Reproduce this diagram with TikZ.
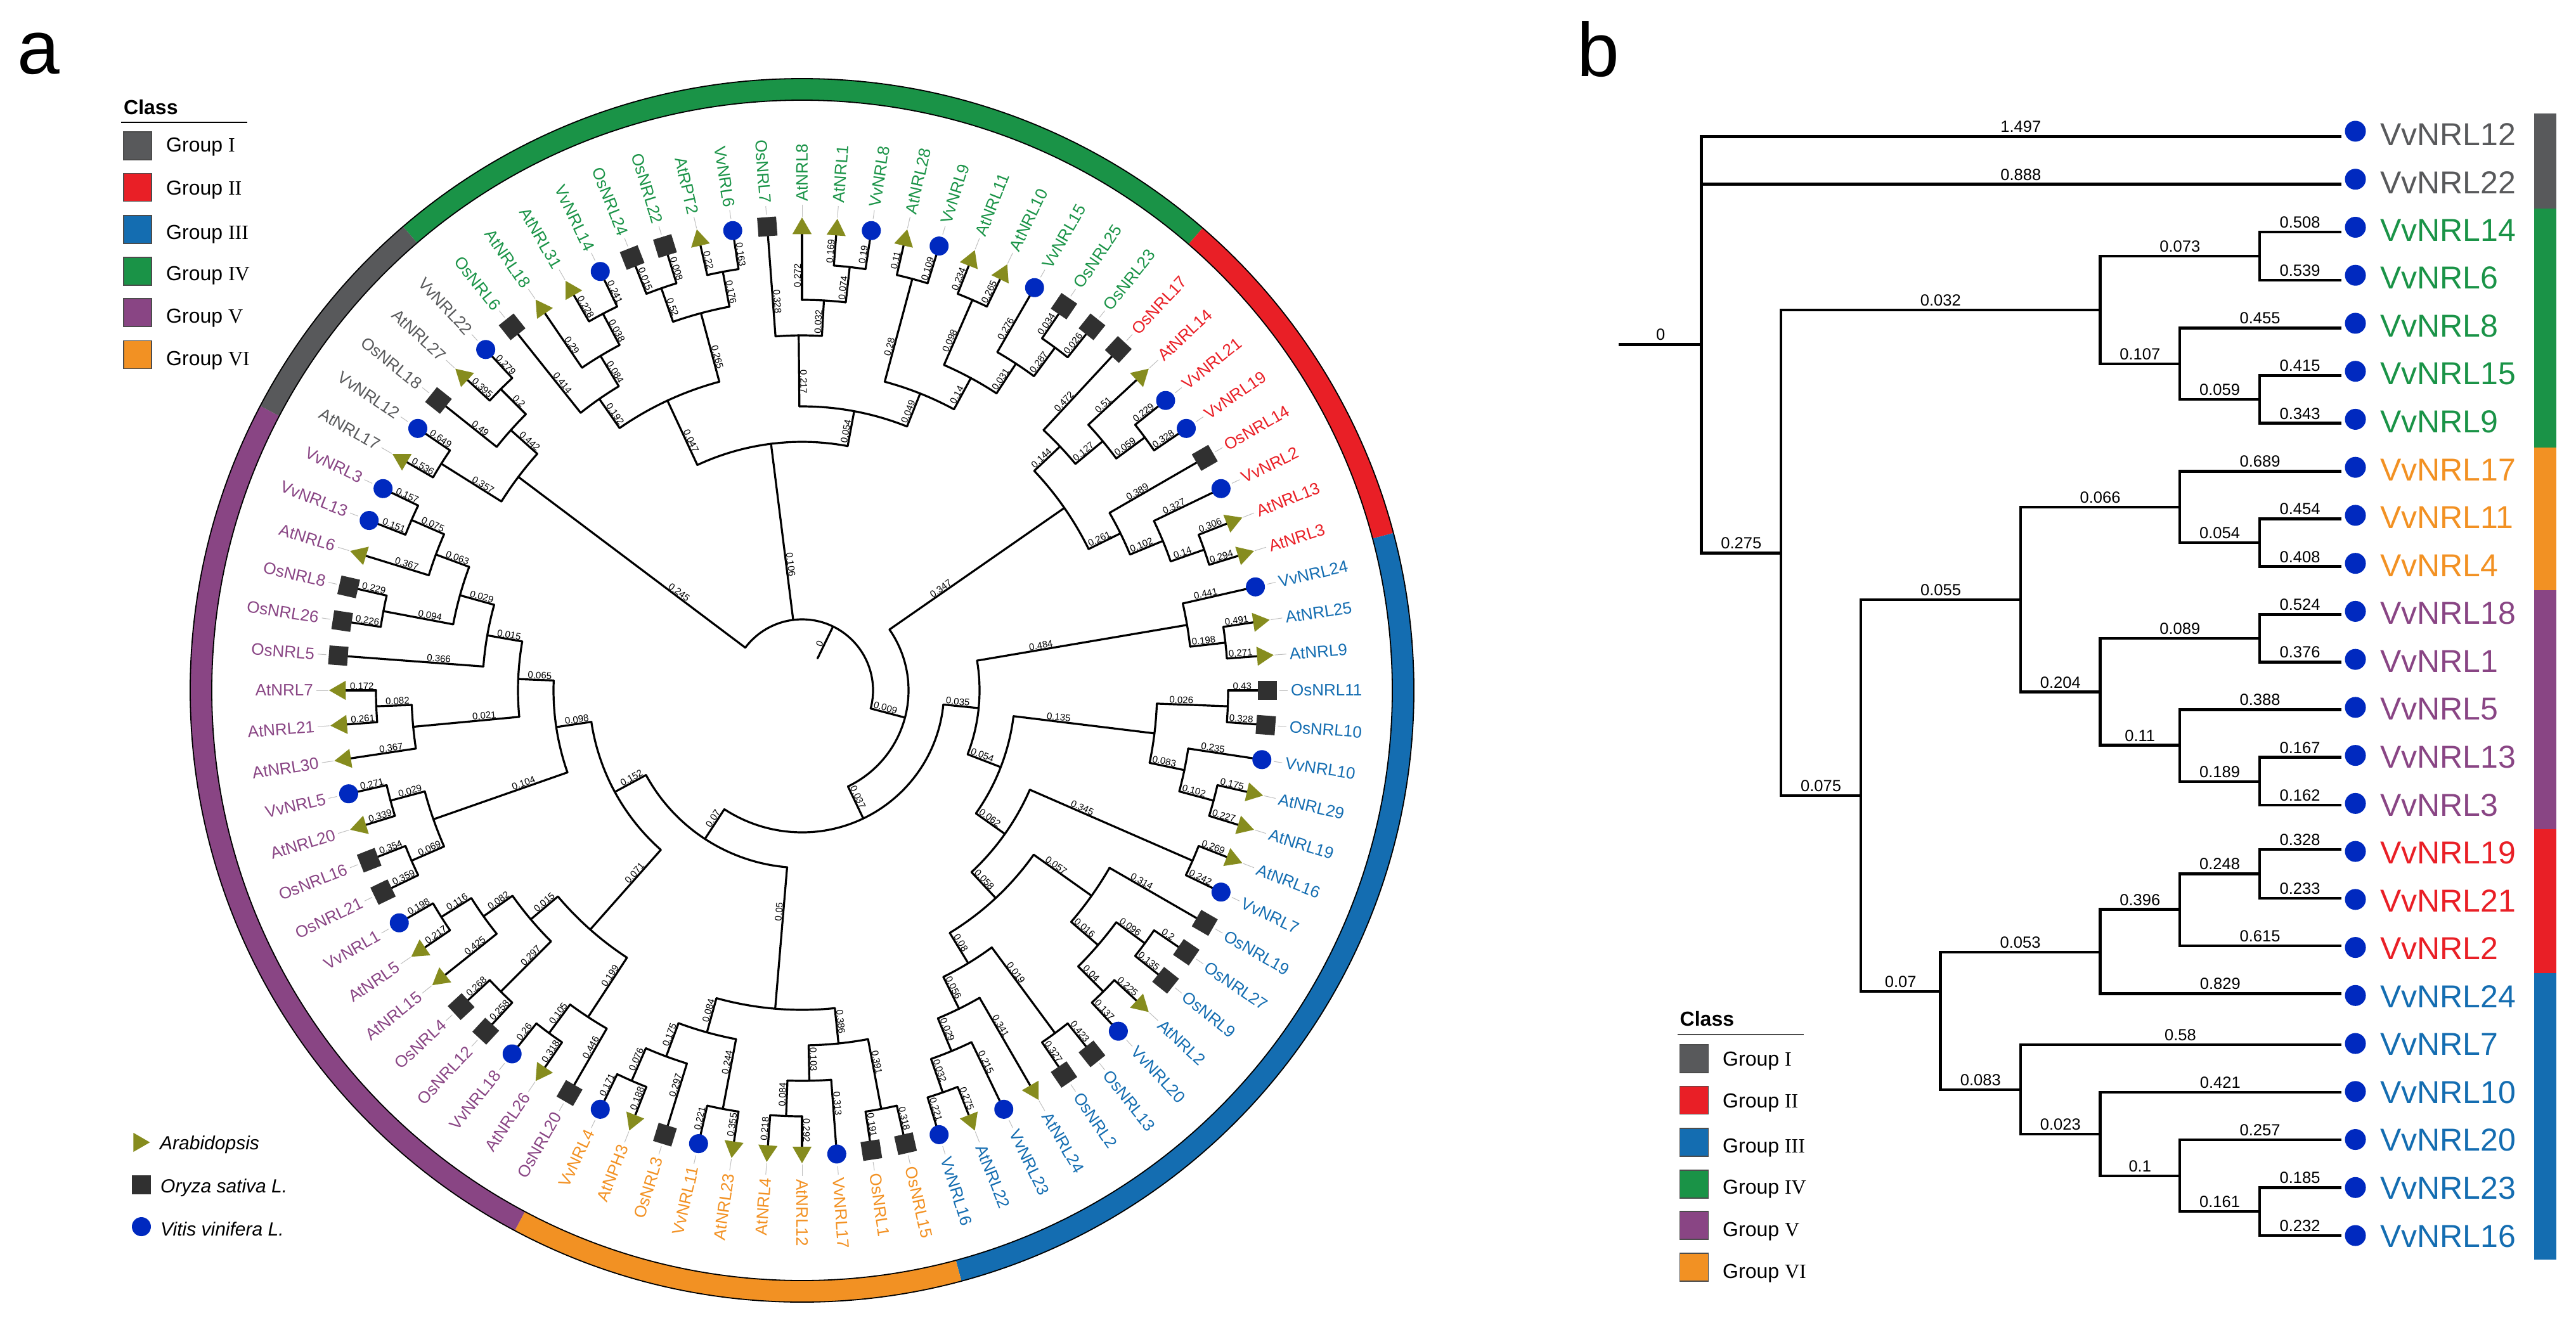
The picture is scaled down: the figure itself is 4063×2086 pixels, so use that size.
\documentclass[tikz,border=0pt]{standalone}
\usepackage{fontspec}
\setmainfont{Liberation Sans}
\newfontfamily\romnum{Liberation Serif}
\usetikzlibrary{shapes.geometric}

\definecolor{grpI}{HTML}{58595B}
\definecolor{grpII}{HTML}{E91F26}
\definecolor{grpIII}{HTML}{146DB1}
\definecolor{grpIV}{HTML}{1A9347}
\definecolor{grpV}{HTML}{894584}
\definecolor{grpVI}{HTML}{F29123}
\definecolor{colAt}{HTML}{868C1E}
\definecolor{colOs}{HTML}{303030}
\definecolor{colVv}{HTML}{0029BF}

\newcommand{\fsz}[1]{\fontsize{#1}{#1}\selectfont}

\tikzset{
	branch/.style={line width=3.2pt,line join=miter,line cap=round},
	bline/.style={line width=4.6pt,line cap=rect},
	leader/.style={black!25,line width=1pt},
	brlabel/.style={font=\fsz{15},inner sep=1.5pt,anchor=south},
	blabel/.style={font=\fsz{25.5},inner sep=4pt,anchor=south},
	taxlabel/.style={font=\fsz{26},inner sep=0pt},
	keytext/.style={font=\fsz{32},inner sep=0pt,anchor=base west},
	sptext/.style={font=\fsz{30}\itshape,inner sep=0pt,anchor=base west},
	markAt/.style={regular polygon,regular polygon sides=3,shape border rotate=-90,fill=colAt,minimum size=35pt,inner sep=0pt},
	markOs/.style={rectangle,fill=colOs,minimum size=30pt,inner sep=0pt},
	markVv/.style={circle,fill=colVv,minimum size=30pt,inner sep=0pt},
}
\def\rAt{728.5}
\def\rOs{733.5}
\def\rVv{733.5}

% radial edge from the arc of a parent out to a child
\newcommand{\spoke}[3]{%
	\pgfmathsetmacro\spA{\csname ang#2\endcsname}
	\pgfmathsetmacro\spR{\csname rad#2\endcsname}
	\coordinate (#2-f) at (\spA:#1);
	\draw[branch] (#2-f) -- (#2);
	\pgfmathsetmacro\spL{#1+0.29*(\spR-#1)+6}
	\pgfmathsetmacro\spT{cos(\spA)>=-0.001?\spA:\spA+180}
	\node[brlabel,rotate=\spT] (#2-l) at (\spA:\spL) {#3};
}
% name, height, first child, its length, last child, its length
\newcommand{\clade}[6]{%
	\pgfmathsetmacro\cdA{\csname ang#3\endcsname}
	\pgfmathsetmacro\cdB{\csname ang#5\endcsname}
	\pgfmathsetmacro\cdR{728-56*#2}
	\pgfmathsetmacro\cdM{(\cdA+\cdB)/2}
	\expandafter\xdef\csname ang#1\endcsname{\cdM}
	\expandafter\xdef\csname rad#1\endcsname{\cdR}
	\coordinate (#1) at (\cdM:\cdR);
	\spoke{\cdR}{#3}{#4}
	\spoke{\cdR}{#5}{#6}
	\draw[branch] (#3-f) arc[start angle=\cdA,end angle=\cdB,radius=\cdR];
}

\def\taxa{AtNRL17/-14/At/grpI,VvNRL12/-13/Vv/grpI,OsNRL18/-12/Os/grpI,AtNRL27/-11/At/grpI,VvNRL22/-10/Vv/grpI,
	OsNRL6/-9/Os/grpIV,AtNRL18/-8/At/grpIV,AtNRL31/-7/At/grpIV,VvNRL14/-6/Vv/grpIV,OsNRL24/-5/Os/grpIV,OsNRL22/-4/Os/grpIV,
	AtRPT2/-3/At/grpIV,VvNRL6/-2/Vv/grpIV,OsNRL7/-1/Os/grpIV,AtNRL8/0/At/grpIV,AtNRL1/1/At/grpIV,VvNRL8/2/Vv/grpIV,
	AtNRL28/3/At/grpIV,VvNRL9/4/Vv/grpIV,AtNRL11/5/At/grpIV,AtNRL10/6/At/grpIV,VvNRL15/7/Vv/grpIV,OsNRL25/8/Os/grpIV,OsNRL23/9/Os/grpIV,
	OsNRL17/10/Os/grpII,AtNRL14/11/At/grpII,VvNRL21/12/Vv/grpII,VvNRL19/13/Vv/grpII,OsNRL14/14/Os/grpII,VvNRL2/15/Vv/grpII,AtNRL13/16/At/grpII,AtNRL3/17/At/grpII,
	VvNRL24/18/Vv/grpIII,AtNRL25/19/At/grpIII,AtNRL9/20/At/grpIII,OsNRL11/21/Os/grpIII,OsNRL10/22/Os/grpIII,VvNRL10/23/Vv/grpIII,AtNRL29/24/At/grpIII,
	AtNRL19/25/At/grpIII,AtNRL16/26/At/grpIII,VvNRL7/27/Vv/grpIII,OsNRL19/28/Os/grpIII,OsNRL27/29/Os/grpIII,OsNRL9/30/Os/grpIII,AtNRL2/31/At/grpIII,
	VvNRL20/32/Vv/grpIII,OsNRL13/33/Os/grpIII,OsNRL2/34/Os/grpIII,AtNRL24/35/At/grpIII,VvNRL23/36/Vv/grpIII,AtNRL22/37/At/grpIII,VvNRL16/38/Vv/grpIII,
	OsNRL15/39/Os/grpVI,OsNRL1/40/Os/grpVI,VvNRL17/41/Vv/grpVI,AtNRL12/42/At/grpVI,AtNRL4/43/At/grpVI,AtNRL23/44/At/grpVI,VvNRL11/45/Vv/grpVI,OsNRL3/46/Os/grpVI,AtNPH3/47/At/grpVI,VvNRL4/48/Vv/grpVI,
	OsNRL20/49/Os/grpV,AtNRL26/50/At/grpV,VvNRL18/51/Vv/grpV,OsNRL12/52/Os/grpV,OsNRL4/53/Os/grpV,AtNRL15/54/At/grpV,AtNRL5/55/At/grpV,VvNRL1/56/Vv/grpV,
	OsNRL21/57/Os/grpV,OsNRL16/58/Os/grpV,AtNRL20/59/At/grpV,VvNRL5/60/Vv/grpV,AtNRL30/61/At/grpV,AtNRL21/62/At/grpV,AtNRL7/63/At/grpV,OsNRL5/64/Os/grpV,
	OsNRL26/65/Os/grpV,OsNRL8/66/Os/grpV,AtNRL6/67/At/grpV,VvNRL13/68/Vv/grpV,VvNRL3/69/Vv/grpV}

\begin{document}
\begin{tikzpicture}[x=1pt,y=-1pt]
	\useasboundingbox (0,0) rectangle (4063,2086);

	\node[font=\fsz{120},inner sep=0pt,anchor=base west] (panelA) at (27,116) {a};
	\node[font=\fsz{120},inner sep=0pt,anchor=base west] (panelB) at (2487,120) {b};

	% circular tree
	\begin{scope}[shift={(1265,1089)},y=1pt]
		\foreach \sA/\sB/\sC in {130.7/49.1/grpIV,49.1/14.9/grpII,14.9/-74.9/grpIII,-74.9/-118/grpVI,-118/-207.7/grpV,-207.7/-229.3/grpI}
			\fill[\sC] (\sA:965) arc[start angle=\sA,end angle=\sB,radius=965] -- (\sB:931) arc[start angle=\sB,end angle=\sA,radius=931] -- cycle;
		\draw[line width=1.8pt] (0,0) circle (965);
		\draw[line width=1.8pt] (0,0) circle (931);

		\foreach \tn/\ti/\tm/\tc in \taxa {
			\pgfmathsetmacro\tA{90-\ti*4.285714}
			\expandafter\xdef\csname ang\tn\endcsname{\tA}
			\expandafter\xdef\csname rad\tn\endcsname{728}
			\coordinate (\tn) at (\tA:728);
		}

		\clade{cA}{1}{AtNRL17}{0.536}{VvNRL12}{0.649}
		\clade{cB}{1}{AtNRL27}{0.395}{VvNRL22}{0.279}
		\clade{cC}{2}{OsNRL18}{0.49}{cB}{0.2}
		\clade{cD}{3}{cA}{0.357}{cC}{0.442}

		\clade{cE}{1}{AtNRL31}{0.228}{VvNRL14}{0.241}
		\clade{cF}{2}{AtNRL18}{0.29}{cE}{0.038}
		\clade{cG}{3}{OsNRL6}{0.414}{cF}{0.084}
		\clade{cH}{1}{OsNRL24}{0.015}{OsNRL22}{0.008}
		\clade{cI}{1}{AtRPT2}{0.22}{VvNRL6}{0.163}
		\clade{cJ}{2}{cH}{0.52}{cI}{0.176}
		\clade{cK}{4}{cG}{0.192}{cJ}{0.265}
		\clade{cL}{1}{AtNRL1}{0.169}{VvNRL8}{0.19}
		\clade{cM}{2}{AtNRL8}{0.272}{cL}{0.074}
		\clade{cN}{3}{OsNRL7}{0.328}{cM}{0.032}
		\clade{cO}{1}{AtNRL28}{0.11}{VvNRL9}{0.109}
		\clade{cP}{1}{AtNRL11}{0.234}{AtNRL10}{0.265}
		\clade{cQ}{1}{OsNRL25}{0.034}{OsNRL23}{0.026}
		\clade{cR}{2}{VvNRL15}{0.276}{cQ}{0.287}
		\clade{cS}{3}{cP}{0.098}{cR}{0.031}
		\clade{cT}{4}{cO}{0.28}{cS}{0.14}
		\clade{cU}{5}{cN}{0.217}{cT}{0.049}
		\clade{cV}{6}{cK}{0.047}{cU}{0.054}

		\clade{cW}{1}{VvNRL21}{0.229}{VvNRL19}{0.328}
		\clade{cX}{2}{AtNRL14}{0.51}{cW}{0.059}
		\clade{cY}{3}{OsNRL17}{0.472}{cX}{0.127}
		\clade{cZ}{1}{AtNRL13}{0.306}{AtNRL3}{0.294}
		\clade{dA}{2}{VvNRL2}{0.327}{cZ}{0.14}
		\clade{dB}{3}{OsNRL14}{0.389}{dA}{0.102}
		\clade{dC}{4}{cY}{0.144}{dB}{0.261}

		\clade{dD}{1}{AtNRL25}{0.491}{AtNRL9}{0.271}
		\clade{dE}{2}{VvNRL24}{0.441}{dD}{0.198}
		\clade{dF}{1}{OsNRL11}{0.43}{OsNRL10}{0.328}
		\clade{dG}{1}{AtNRL29}{0.175}{AtNRL19}{0.227}
		\clade{dH}{2}{VvNRL10}{0.235}{dG}{0.102}
		\clade{dI}{3}{dF}{0.026}{dH}{0.083}
		\clade{dJ}{1}{AtNRL16}{0.269}{VvNRL7}{0.242}
		\clade{dK}{1}{OsNRL27}{0.2}{OsNRL9}{0.135}
		\clade{dL}{1}{AtNRL2}{0.225}{VvNRL20}{0.137}
		\clade{dM}{2}{dK}{0.096}{dL}{0.04}
		\clade{dN}{3}{OsNRL19}{0.314}{dM}{0.016}
		\clade{dO}{1}{OsNRL13}{0.423}{OsNRL2}{0.327}
		\clade{dP}{1}{AtNRL22}{0.275}{VvNRL16}{0.221}
		\clade{dQ}{2}{VvNRL23}{0.215}{dP}{0.032}
		\clade{dR}{3}{AtNRL24}{0.341}{dQ}{0.029}
		\clade{dS}{4}{dO}{0.019}{dR}{0.056}
		\clade{dT}{5}{dN}{0.057}{dS}{0.08}
		\clade{dU}{6}{dJ}{0.345}{dT}{0.058}
		\clade{dV}{7}{dI}{0.135}{dU}{0.062}
		\clade{dW}{8}{dE}{0.484}{dV}{0.054}

		\clade{dX}{1}{OsNRL15}{0.318}{OsNRL1}{0.191}
		\clade{dY}{1}{AtNRL12}{0.292}{AtNRL4}{0.218}
		\clade{dZ}{2}{VvNRL17}{0.313}{dY}{0.084}
		\clade{eA}{3}{dX}{0.391}{dZ}{0.103}
		\clade{eB}{1}{AtNRL23}{0.355}{VvNRL11}{0.221}
		\clade{eC}{1}{AtNPH3}{0.188}{VvNRL4}{0.171}
		\clade{eD}{2}{OsNRL3}{0.297}{eC}{0.076}
		\clade{eE}{3}{eB}{0.244}{eD}{0.175}
		\clade{eF}{4}{eA}{0.386}{eE}{0.084}

		\clade{eG}{1}{AtNRL26}{0.318}{VvNRL18}{0.26}
		\clade{eH}{2}{OsNRL20}{0.446}{eG}{0.105}
		\clade{eI}{1}{OsNRL12}{0.258}{OsNRL4}{0.268}
		\clade{eJ}{1}{AtNRL5}{0.217}{VvNRL1}{0.198}
		\clade{eK}{2}{AtNRL15}{0.425}{eJ}{0.116}
		\clade{eL}{3}{eI}{0.297}{eK}{0.082}
		\clade{eM}{4}{eH}{0.199}{eL}{0.015}
		\clade{eN}{1}{OsNRL21}{0.359}{OsNRL16}{0.354}
		\clade{eO}{1}{AtNRL20}{0.339}{VvNRL5}{0.271}
		\clade{eP}{2}{eN}{0.069}{eO}{0.029}
		\clade{eQ}{1}{AtNRL21}{0.261}{AtNRL7}{0.172}
		\clade{eR}{2}{AtNRL30}{0.367}{eQ}{0.082}
		\clade{eS}{1}{OsNRL26}{0.226}{OsNRL8}{0.229}
		\clade{eT}{1}{VvNRL13}{0.151}{VvNRL3}{0.157}
		\clade{eU}{2}{AtNRL6}{0.367}{eT}{0.075}
		\clade{eV}{3}{eS}{0.094}{eU}{0.063}
		\clade{eW}{4}{OsNRL5}{0.366}{eV}{0.029}
		\clade{eX}{5}{eR}{0.021}{eW}{0.015}
		\clade{eY}{6}{eP}{0.104}{eX}{0.065}
		\clade{eZ}{7}{eM}{0.071}{eY}{0.098}
		\clade{fA}{8}{eF}{0.05}{eZ}{0.152}
		\clade{fB}{9}{dW}{0.035}{fA}{0.07}
		\clade{fC}{10}{dC}{0.347}{fB}{0.037}
		\clade{root}{11}{cD}{0.245}{fC}{0.009}
		\spoke{112}{cV}{0.106}

		% stub under the root
		\coordinate (rootstub) at (\angroot:56);
		\draw[branch] (root) -- (rootstub);
		\node[brlabel,rotate=\angroot] (root-l) at (\angroot:78) {0};

		\foreach \tn/\ti/\tm/\tc in \taxa {
			\pgfmathsetmacro\tA{90-\ti*4.285714}
			\pgfmathsetmacro\tB{\tA+180}
			\pgfmathtruncatemacro\tS{cos(\tA)>=-0.001?1:0}
			\node[mark\tm,rotate=\tA] (\tn m) at (\tA:\csname r\tm\endcsname) {};
			\ifnum\tS=1
				\node[taxlabel,text=\tc,anchor=west,rotate=\tA] (\tn-t) at (\tA:771) {\tn};
				\draw[leader,shorten <=19pt,shorten >=5pt] (\tn m.center) -- (\tn-t.west);
			\else
				\node[taxlabel,text=\tc,anchor=east,rotate=\tB] (\tn-t) at (\tA:771) {\tn};
				\draw[leader,shorten <=19pt,shorten >=5pt] (\tn m.center) -- (\tn-t.east);
			\fi
		}
	\end{scope}

	% class keys
	\node[font=\fsz{32}\bfseries,inner sep=0pt,anchor=base west] (keyA) at (195,180) {Class};
	\draw[line width=1.5pt] (191,193) -- (390,193);
	\foreach \col/\num/\top/\bas in {grpI/I/208/239,grpII/II/273.5/307.5,grpIII/III/340/377.5,grpIV/IV/406/442,grpV/V/471/509,grpVI/VI/537.5/576} {
		\draw[fill=\col,draw=black!70,line width=1.2pt] (195,\top) rectangle ++(44,44);
		\node[keytext] (keyA\num) at (262,\bas) {Group {\romnum\num}};
	}
	\node[font=\fsz{32}\bfseries,inner sep=0pt,anchor=base west] (keyB) at (2649.5,1618) {Class};
	\draw[line width=1.5pt,black!70] (2645.6,1632) -- (2845,1632);
	\foreach \col/\num/\top/\bas in {grpI/I/1648/1681,grpII/II/1713.5/1747,grpIII/III/1780/1818,grpIV/IV/1846/1883,grpV/V/1911/1950,grpVI/VI/1977/2016} {
		\draw[fill=\col,draw=black!70,line width=1.2pt] (2649.5,\top) rectangle ++(45,44);
		\node[keytext] (keyB\num) at (2717,\bas) {Group {\romnum\num}};
	}

	% species key
	\node[markAt,minimum size=35pt] (keyAt) at (219,1802) {};
	\node[sptext] (keyAtT) at (252,1813) {Arabidopsis};
	\node[markOs] (keyOs) at (223,1869) {};
	\node[sptext] (keyOsT) at (253,1881) {Oryza sativa L.};
	\node[markVv] (keyVv) at (223,1935) {};
	\node[sptext] (keyVvT) at (253,1949) {Vitis vinifera L.};

	% rectangular tree
	\coordinate (bstub) at (2555,543.3);
	\coordinate (broot) at (2683.5,543.3);
	\coordinate (bn1) at (2809,872.4);
	\coordinate (ba) at (3312.5,488.8);
	\coordinate (bb) at (2935,1254.9);
	\coordinate (bc) at (3564,404);
	\coordinate (bd) at (3438,574);
	\coordinate (be) at (3564,630);
	\coordinate (bf) at (3187,945.8);
	\coordinate (bg) at (3060.5,1564);
	\coordinate (bh) at (3438,800);
	\coordinate (bi) at (3312.5,1091.6);
	\coordinate (bj) at (3564,856);
	\coordinate (bk) at (3564,1007);
	\coordinate (bl) at (3438,1175.6);
	\coordinate (bm) at (3564,1233);
	\coordinate (bn) at (3312.5,1502);
	\coordinate (bo) at (3187,1719);
	\coordinate (bp) at (3438,1434.7);
	\coordinate (bq) at (3564,1378.5);
	\coordinate (br) at (3312.5,1789);
	\coordinate (bs) at (3438,1855);
	\coordinate (bt) at (3564,1911);

	\foreach \n/\ly/\col [count=\k from 0] in {VvNRL12/215.5/grpI,VvNRL22/290.6/grpI,VvNRL14/365.8/grpIV,VvNRL6/442/grpIV,VvNRL8/517.3/grpIV,VvNRL15/592.4/grpIV,VvNRL9/667.6/grpIV,
		VvNRL17/743.3/grpVI,VvNRL11/818.5/grpVI,VvNRL4/893.6/grpVI,VvNRL18/969.4/grpV,VvNRL1/1044.5/grpV,VvNRL5/1119.4/grpV,VvNRL13/1194.7/grpV,VvNRL3/1270/grpV,
		VvNRL19/1340/grpII,VvNRL21/1416.8/grpII,VvNRL2/1492/grpII,VvNRL24/1567.5/grpIII,VvNRL7/1648/grpIII,VvNRL10/1723/grpIII,VvNRL20/1798/grpIII,VvNRL23/1873.5/grpIII,VvNRL16/1949/grpIII} {
		\coordinate (b\n) at (3691,\ly);
		\pgfmathsetmacro\dy{207+75.74*\k}
		\pgfmathsetmacro\ty{212+75.56*\k}
		\node[circle,fill=colVv,minimum size=33pt,inner sep=0pt] (b\n m) at (3715,\dy) {};
		\node[font=\fsz{50},text=\col,inner sep=0pt,anchor=west] (b\n t) at (3754,\ty) {\n};
	}

	\draw[bline] (bstub) -- node[blabel] (lbroot) {0} (broot);
	\foreach \p/\c/\l in {broot/bVvNRL12/1.497,broot/bVvNRL22/0.888,broot/bn1/0.275,bn1/ba/0.032,bn1/bb/0.075,
		ba/bc/0.073,ba/bd/0.107,bc/bVvNRL14/0.508,bc/bVvNRL6/0.539,bd/bVvNRL8/0.455,bd/be/0.059,be/bVvNRL15/0.415,be/bVvNRL9/0.343,
		bb/bf/0.055,bb/bg/0.07,bf/bh/0.066,bf/bi/0.204,bh/bVvNRL17/0.689,bh/bj/0.054,bj/bVvNRL11/0.454,bj/bVvNRL4/0.408,
		bi/bk/0.089,bi/bl/0.11,bk/bVvNRL18/0.524,bk/bVvNRL1/0.376,bl/bVvNRL5/0.388,bl/bm/0.189,bm/bVvNRL13/0.167,bm/bVvNRL3/0.162,
		bg/bn/0.053,bg/bo/0.083,bn/bp/0.396,bn/bVvNRL24/0.829,bp/bq/0.248,bp/bVvNRL2/0.615,bq/bVvNRL19/0.328,bq/bVvNRL21/0.233,
		bo/bVvNRL7/0.58,bo/br/0.023,br/bVvNRL10/0.421,br/bs/0.1,bs/bVvNRL20/0.257,bs/bt/0.161,bt/bVvNRL23/0.185,bt/bVvNRL16/0.232}
		\draw[bline] (\p |- \c) -- node[blabel] (l\c) {\l} (\c);
	\foreach \p/\u/\v in {broot/bVvNRL12/bn1,bn1/ba/bb,ba/bc/bd,bc/bVvNRL14/bVvNRL6,bd/bVvNRL8/be,be/bVvNRL15/bVvNRL9,
		bb/bf/bg,bf/bh/bi,bh/bVvNRL17/bj,bj/bVvNRL11/bVvNRL4,bi/bk/bl,bk/bVvNRL18/bVvNRL1,bl/bVvNRL5/bm,bm/bVvNRL13/bVvNRL3,
		bg/bn/bo,bn/bp/bVvNRL24,bp/bq/bVvNRL2,bq/bVvNRL19/bVvNRL21,bo/bVvNRL7/br,br/bVvNRL10/bs,bs/bVvNRL20/bt,bt/bVvNRL23/bVvNRL16}
		\draw[bline] (\p |- \u) -- (\p |- \v);

	% class strip
	\foreach \col/\top/\bot in {grpI/178.5/329,grpIV/329/706,grpVI/706/931,grpV/931/1308,grpII/1308/1534.5,grpIII/1534.5/1986.5}
		\fill[\col] (3996.5,\top) rectangle (4032,\bot);
\end{tikzpicture}
\end{document}
